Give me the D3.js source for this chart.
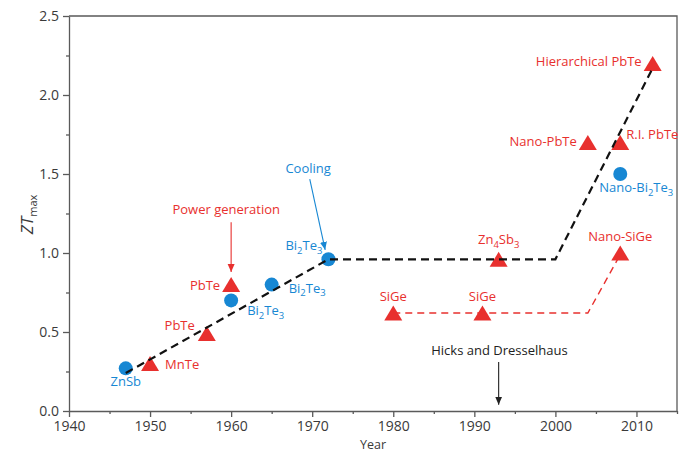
<!doctype html>
<html>
<head>
<meta charset="UTF-8" />
<title>ZT max over time</title>
<script src="https://d3js.org/d3.v7.min.js"></script>
<style>
  body { margin: 0; background: #fff; }
  svg text { font-family: "Open Sans", "Noto Sans", sans-serif; }
</style>
</head>
<body>
<div id="container"></div>
<script>

// data
const materials = ["ZnSb", "MnTe", "PbTe", "PbTe", "Bi2Te3", "Bi2Te3", "Bi2Te3", "SiGe", "SiGe",
                   "Zn4Sb3", "Nano-PbTe", "R.I. PbTe", "Nano-Bi2Te3", "Nano-SiGe", "Hierarchical PbTe"];
const years = [1947, 1950, 1957, 1960, 1960, 1965, 1972, 1980, 1991, 1993, 2004, 2008, 2008, 2008, 2012];
const ztValues = [0.27, 0.30, 0.49, 0.80, 0.70, 0.80, 0.96, 0.62, 0.62, 0.96, 1.70, 1.70, 1.50, 1.00, 2.20];
// "c" = cooling (circle), "p" = power generation (triangle)
const kinds = ["c", "p", "p", "p", "c", "c", "c", "p", "p", "p", "p", "p", "c", "p", "p"];

const blackTrendYears = [1947, 1972, 2000, 2012];
const blackTrendZT = [0.24, 0.96, 0.96, 2.17];
const redTrendYears = [1980, 2004, 2008];
const redTrendZT = [0.62, 0.62, 0.99];

const xTicks = [1940, 1950, 1960, 1970, 1980, 1990, 2000, 2010];
const xMinor = [1945, 1955, 1965, 1975, 1985, 1995, 2005, 2015];
const yTicks = [0, 0.5, 1.0, 1.5, 2.0, 2.5];
const yMinor = [0.25, 0.75, 1.25, 1.75, 2.25];

// annotations: text, text position (year, ZT), arrow from/to
const notes = [
  {text: "Power generation", kind: "p", at: [1959.4, 1.25], from: [1960, 1.195], to: [1960, 0.88]},
  {text: "Cooling", kind: "c", at: [1969.5, 1.505], from: [1969.7, 1.468], to: [1971.6, 1.02]},
  {text: "Hicks and Dresselhaus", kind: "k", at: [1993.1, 0.355], from: [1993, 0.31], to: [1993, 0.04]}
];

// label placement next to each marker (pixel offsets, anchor)
const labelLayout = [
  [0, 18, "middle"], [15, 5.5, "start"], [-12, -3.5, "end"], [-11, 5, "end"],
  [16, 15, "start"], [17, 8, "start"], [-6, -9, "end"], [0, -12, "middle"],
  [0, -12, "middle"], [0, -15, "middle"], [-11, 4, "end"], [6, -3, "start"],
  [-21, 18, "start"], [0, -12, "middle"], [-11, 3, "end"]
];

const width = 686, height = 457;
const marginLeft = 69, marginRight = 9, marginTop = 16, marginBottom = 46;

const red = "#e8302e", blue = "#1787d3", axisColor = "#5a5a5a";
const colorOf = k => k === "p" ? red : k === "c" ? blue : "#222";

const x = d3.scaleLinear().domain([1940, 2015]).range([marginLeft, width - marginRight]);
const y = d3.scaleLinear().domain([0, 2.5]).range([height - marginBottom, marginTop]);

const svg = d3.select("#container").append("svg")
    .attr("width", width)
    .attr("height", height);

// frame (top and right)
svg.append("path")
    .attr("d", `M${x(1940)},${y(2.5)}H${x(2015)}V${y(0)}`)
    .attr("fill", "none")
    .attr("stroke", axisColor)
    .attr("stroke-width", 1.3);

// axes
svg.append("g")
    .attr("transform", `translate(0,${y(0)})`)
    .call(d3.axisBottom(x).tickValues(xTicks).tickFormat(d3.format("d")).tickSize(6).tickSizeOuter(0).tickPadding(4));
svg.append("g")
    .attr("transform", `translate(0,${y(0)})`)
    .call(d3.axisBottom(x).tickValues(xMinor).tickFormat("").tickSize(3).tickSizeOuter(0))
    .call(g => g.select(".domain").remove());

svg.append("g")
    .attr("transform", `translate(${x(1940)},0)`)
    .call(d3.axisLeft(y).tickValues(yTicks).tickFormat(d3.format(".1f")).tickSize(6).tickSizeOuter(0).tickPadding(4));
svg.append("g")
    .attr("transform", `translate(${x(1940)},0)`)
    .call(d3.axisLeft(y).tickValues(yMinor).tickFormat("").tickSize(3).tickSizeOuter(0))
    .call(g => g.select(".domain").remove());

svg.selectAll(".domain, .tick line").attr("stroke", axisColor).attr("stroke-width", 1.3);
svg.selectAll(".tick text").attr("fill", "#3a3a3a").style("font-size", "14px")
    .style("font-family", "\"Open Sans\", sans-serif");

// axis titles
svg.append("text")
    .attr("x", x(1977.5))
    .attr("y", 449)
    .attr("text-anchor", "middle")
    .attr("fill", "#3a3a3a")
    .style("font-size", "12.5px")
    .text("Year");

const yTitle = svg.append("text")
    .attr("transform", `translate(33,${y(1.25) + 1}) rotate(-90)`)
    .attr("text-anchor", "middle")
    .attr("fill", "#3a3a3a");
yTitle.append("tspan").style("font-size", "17px").style("font-style", "italic").text("ZT");
yTitle.append("tspan").style("font-size", "11px").attr("dy", 4).text("max");

// markers
const points = materials.map((m, i) => ({name: m, year: years[i], zt: ztValues[i], kind: kinds[i], layout: labelLayout[i]}));
const triangle = "M0,-7.5L9,7.5L-9,7.5Z";

svg.append("g")
  .selectAll("path")
  .data(points.filter(d => d.kind === "p"))
  .join("path")
    .attr("d", triangle)
    .attr("transform", d => `translate(${x(d.year)},${y(d.zt)})`)
    .attr("fill", red);

svg.append("g")
  .selectAll("circle")
  .data(points.filter(d => d.kind === "c"))
  .join("circle")
    .attr("cx", d => x(d.year))
    .attr("cy", d => y(d.zt))
    .attr("r", 7)
    .attr("fill", blue);

// trend lines
const line = d3.line().x(d => x(d[0])).y(d => y(d[1]));
svg.append("path")
    .datum(blackTrendYears.map((yr, i) => [yr, blackTrendZT[i]]))
    .attr("d", line)
    .attr("fill", "none")
    .attr("stroke", "#111")
    .attr("stroke-width", 2.2)
    .attr("stroke-dasharray", "8,5");
svg.append("path")
    .datum(redTrendYears.map((yr, i) => [yr, redTrendZT[i]]))
    .attr("d", line)
    .attr("fill", "none")
    .attr("stroke", red)
    .attr("stroke-width", 1.4)
    .attr("stroke-dasharray", "7,5");

// marker labels, with subscripts for the digits in formulas
function addFormula(sel, name) {
  let lowered = false;
  name.split(/(\d)/).filter(s => s.length).forEach(part => {
    if (/^\d$/.test(part)) {
      sel.append("tspan").attr("dy", 3.5).style("font-size", "9.5px").text(part);
      lowered = true;
    } else {
      sel.append("tspan").attr("dy", lowered ? -3.5 : 0).text(part);
      lowered = false;
    }
  });
}

svg.append("g")
  .selectAll("text")
  .data(points)
  .join("text")
    .attr("x", d => x(d.year) + d.layout[0])
    .attr("y", d => y(d.zt) + d.layout[1])
    .attr("text-anchor", d => d.layout[2])
    .attr("fill", d => colorOf(d.kind))
    .style("font-size", "13px")
    .each(function (d) { addFormula(d3.select(this), d.name); });

// annotations with arrows
const defs = svg.append("defs");
["p", "c", "k"].forEach(k => {
  defs.append("marker")
      .attr("id", "arrow-" + k)
      .attr("viewBox", "0 -4 8 8")
      .attr("refX", 8)
      .attr("refY", 0)
      .attr("markerWidth", 8)
      .attr("markerHeight", 8)
      .attr("markerUnits", "userSpaceOnUse")
      .attr("orient", "auto")
    .append("path")
      .attr("d", "M0,-3.5L8,0L0,3.5Z")
      .attr("fill", colorOf(k));
});

const noteG = svg.append("g");
notes.forEach(n => {
  noteG.append("text")
      .attr("x", x(n.at[0]))
      .attr("y", y(n.at[1]))
      .attr("text-anchor", "middle")
      .attr("fill", colorOf(n.kind))
      .style("font-size", "13px")
      .text(n.text);
  noteG.append("line")
      .attr("x1", x(n.from[0])).attr("y1", y(n.from[1]))
      .attr("x2", x(n.to[0])).attr("y2", y(n.to[1]))
      .attr("stroke", colorOf(n.kind))
      .attr("stroke-width", 1.1)
      .attr("marker-end", `url(#arrow-${n.kind})`);
});

</script>
</body>
</html>
